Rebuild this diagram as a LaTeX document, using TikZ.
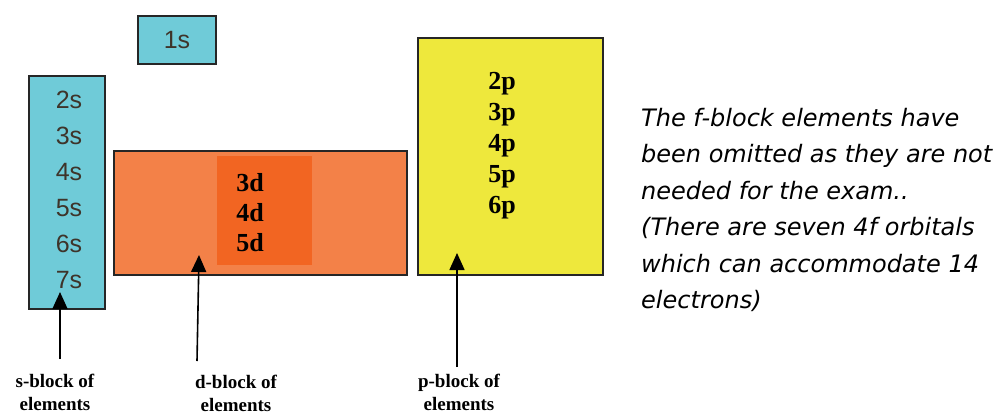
\documentclass[tikz,border=0pt]{standalone}
\usepackage{fontspec}
\setmainfont{Liberation Serif}
\newfontfamily\arialf{Liberation Sans}
\newfontfamily\notef{DejaVu Sans}
\usetikzlibrary{arrows.meta}
\definecolor{scyan}{RGB}{111,203,216}
\definecolor{dorange}{RGB}{243,129,72}
\definecolor{dinner}{RGB}{242,101,34}
\definecolor{pyellow}{RGB}{238,232,60}
\definecolor{sgray}{RGB}{62,52,42}
\tikzset{
  blockbox/.style={draw=black!85, line width=1.3pt, inner sep=0pt},
  slabel/.style={font=\arialf\fontsize{25}{30}\selectfont, text=sgray, inner sep=0pt},
  bl/.style={font=\bfseries\fontsize{26}{30}\selectfont, inner sep=0pt},
  caplabel/.style={font=\bfseries\fontsize{19}{23}\selectfont, align=center, inner sep=0pt},
  uparrow/.style={line width=1.6pt, -{Triangle[width=15pt,length=17pt]}}
}
\begin{document}
\begin{tikzpicture}[x=1pt,y=-1pt]
\useasboundingbox (0,0) rectangle (1008,418);
% boxes
\node[blockbox, fill=scyan, minimum width=78pt, minimum height=48pt] (one) at (177,40) {};
\node[slabel] at (one.center) {1s};
\node[blockbox, fill=scyan, minimum width=76pt, minimum height=233pt] (sbox) at (67,192.5) {};
\node[blockbox, fill=dorange, minimum width=293pt, minimum height=124pt] (dbox) at (260.5,213) {};
\node[fill=dinner, minimum width=95pt, minimum height=109pt, inner sep=0pt] (dinn) at (264.5,210.5) {};
\node[blockbox, fill=pyellow, minimum width=185pt, minimum height=237pt] (pbox) at (510.5,156.5) {};
% s labels
\foreach \t/\yy in {2s/100,3s/136,4s/172,5s/208,6s/244,7s/280}
  \node[slabel] (s\t) at (69,\yy) {\t};
% d labels
\foreach \t/\yy in {3d/183,4d/213,5d/243}
  \node[bl] (d\t) at (250,\yy) {\t};
% p labels
\foreach \t/\yy in {2p/84,3p/115,4p/146,5p/177,6p/208}
  \node[bl] (p\t) at (502,\yy) {\t};
% captions
\node[caplabel] (scap) at (55,392) {s-block of\\elements};
\node[caplabel] (dcap) at (236,393) {d-block of\\elements};
\node[caplabel] (pcap) at (459,392) {p-block of\\elements};
% arrows
\coordinate (stail) at (60,359);
\coordinate (stip) at (60,292);
\coordinate (dtail) at (197,361);
\coordinate (dtip) at (199,255);
\coordinate (ptail) at (457,367);
\coordinate (ptip) at (457,253);
\draw[uparrow] (stail) -- (stip);
\draw[uparrow] (dtail) -- (dtip);
\draw[uparrow] (ptail) -- (ptip);
% note
\node[anchor=north west, align=left, inner sep=0pt, font=\notef\itshape\fontsize{24}{36.5}\selectfont] (note) at (641,108)
{The f-block elements have\\been omitted as they are not\\needed for the exam..\\(There are seven 4f orbitals\\which can accommodate 14\\electrons)};
\end{tikzpicture}
\end{document}
